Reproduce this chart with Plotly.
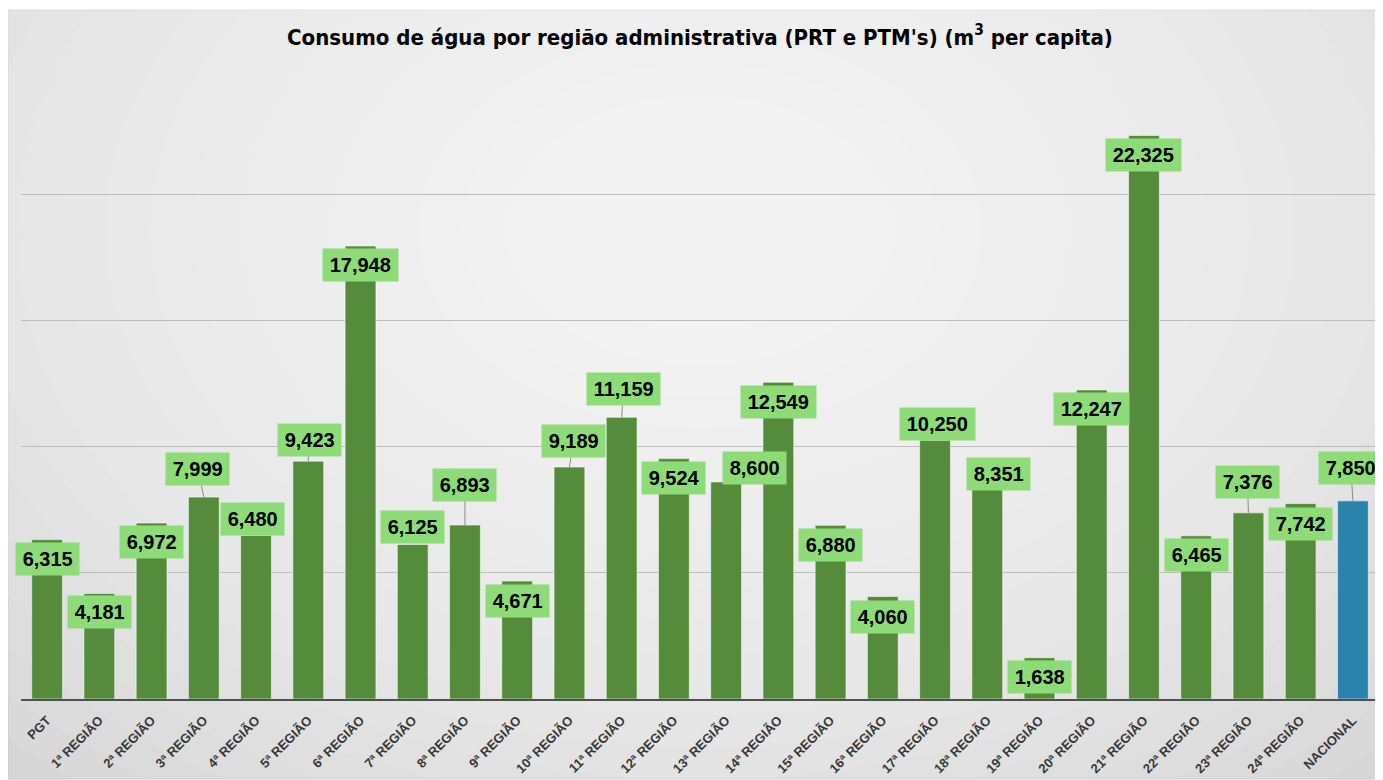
import plotly.graph_objects as go

# ---------------- data ----------------
categories = ["PGT"] + [f"{i}ª REGIÃO" for i in range(1, 25)] + ["NACIONAL"]
values = [6315, 4181, 6972, 7999, 6480, 9423, 17948, 6125, 6893, 4671,
          9189, 11159, 9524, 8600, 12549, 6880, 4060, 10250, 8351, 1638,
          12247, 22325, 6465, 7376, 7742, 7850]
title_text = "Consumo de água por região administrativa (PRT e PTM's) (m<sup>3</sup> per capita)"

# ---------------- styles ----------------
GREEN = "#548c3c"
BLUE = "#2b82aa"
LABEL_BG = "#8ddc78"
bar_colors = [BLUE if c == "NACIONAL" else GREEN for c in categories]

# label placement (pixel offsets from bar top, leader line flag)
label_offsets = [
    (0, 19, False), (0, 19, False), (0, 19, False), (-6, -28, True), (-4, -16, False),
    (1, -21, True), (0, 19, False), (0, -17, False), (0, -40, True), (0, 20, False),
    (4, -26, True), (2, -28, True), (0, 19, False), (28, -14, False), (0, 20, False),
    (0, 20, False), (0, 20, False), (2, -16, False), (11, -14, False), (0, 19, False),
    (0, 19, False), (0, 19, False), (0, 19, False), (-1, -31, True), (0, 20, False),
    (-2, -33, True),
]

# page body has an 8px margin: build the figure 8px smaller and work in page pixels
OFF = 8
W, H = 1383 - OFF, 780 - OFF
ML, MR, MT, MB = 21 - OFF, 4, 68 - OFF, 81
PW, PH = W - ML - MR, H - MT - MB


def px(x):  # page pixel -> paper x
    return (x - OFF - ML) / PW


def py(y):  # page pixel -> paper y
    return (H - MB - (y - OFF)) / PH


fig = go.Figure()
fig.add_trace(go.Bar(
    x=categories, y=values,
    marker=dict(color=bar_colors, line=dict(color="rgba(255,255,255,0.55)", width=1)),
    hoverinfo="x+y",
))

annotations = []
for cat, val, (ax, ay, lead) in zip(categories, values, label_offsets):
    annotations.append(dict(
        x=cat, y=val, xref="x", yref="y",
        text="\u200a" + f"{val:,}" + "\u200a",
        showarrow=True, arrowhead=0, arrowwidth=1,
        arrowcolor="#8a8a8a" if lead else "rgba(0,0,0,0)",
        ax=ax, ay=ay,
        bgcolor=LABEL_BG, borderpad=5,
        font=dict(family="Liberation Sans, Arial, sans-serif", size=20, color="black", weight="bold"),
    ))

shapes = []
# chart frame
shapes.append(dict(type="rect", xref="paper", yref="paper",
                   x0=px(8), x1=px(1382), y0=py(779), y1=py(10),
                   fillcolor="#d3d3d3", line=dict(color="#c4c4c4", width=1), layer="below"))
# vignette (light centre)
n = 22
cx, cy = 700, 230
for k in range(n):
    f = 1 - k / n
    rx, ry = 980 * f + 60, 700 * f + 40
    shapes.append(dict(type="circle", xref="paper", yref="paper",
                       x0=px(cx - rx), x1=px(cx + rx), y0=py(cy + ry), y1=py(cy - ry),
                       fillcolor="white", opacity=0.075, line=dict(width=0), layer="below"))

fig.update_layout(
    width=W, height=H,
    margin=dict(l=ML, r=MR, t=MT, b=MB, autoexpand=False),
    paper_bgcolor="white",
    plot_bgcolor="rgba(0,0,0,0)",
    bargap=0.41,
    showlegend=False,
    title=dict(text=title_text, x=0.5, xref="paper", xanchor="center",
               y=1 - (37 - OFF) / H, yref="container", yanchor="middle",
               font=dict(family="DejaVu Sans Condensed, Liberation Sans Narrow, sans-serif",
                         size=22, color="black", weight="bold")),
    xaxis=dict(tickangle=-45, showline=True, linecolor="#505050", linewidth=1.5,
               ticks="outside", ticklen=7, tickcolor="rgba(0,0,0,0)",
               showgrid=False, automargin=False,
               range=[-0.5, len(categories) - 0.5],
               tickfont=dict(family="Liberation Sans, Arial, sans-serif", size=13,
                             color="#383838", weight="bold")),
    yaxis=dict(range=[0, 25000], dtick=5000, showticklabels=False, showgrid=True,
               gridcolor="#bdbdbd", gridwidth=1, zeroline=False, showline=False,
               automargin=False),
    annotations=annotations,
    shapes=shapes,
)

fig.write_html("out.html")
